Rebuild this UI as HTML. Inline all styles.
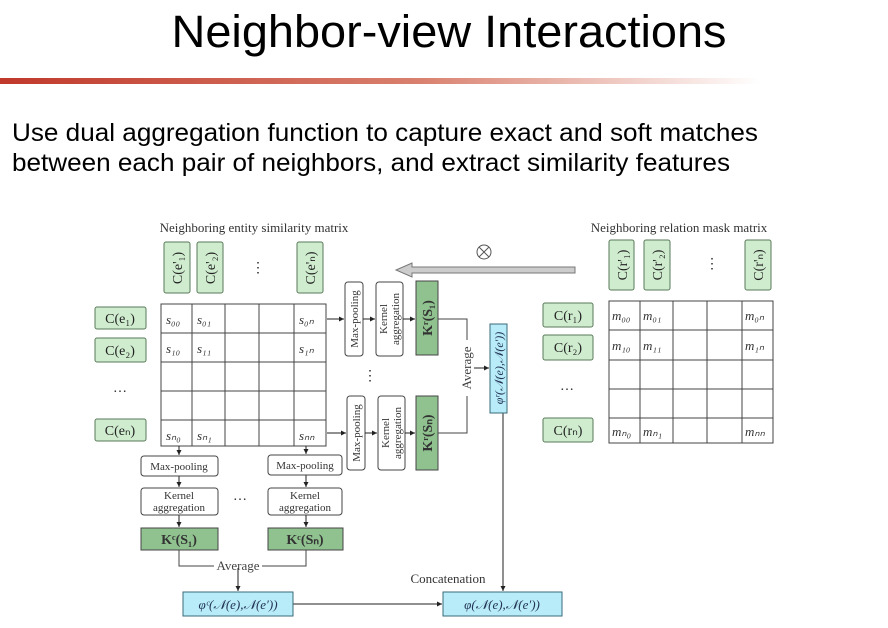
<!DOCTYPE html>
<html><head><meta charset="utf-8"><style>
body{margin:0;background:#fff;}
svg{display:block;font-family:"Liberation Serif",serif;}
.t{font-family:"Liberation Sans",sans-serif;}
</style></head><body>
<svg width="888" height="628" viewBox="0 0 888 628" xmlns="http://www.w3.org/2000/svg">
<defs>
<linearGradient id="rl" x1="0" x2="1"><stop offset="0" stop-color="#c0392b"/><stop offset="0.55" stop-color="#d9806e"/><stop offset="1" stop-color="#fff"/></linearGradient>
<marker id="a" markerWidth="6" markerHeight="6" refX="5" refY="3" orient="auto"><path d="M0,0.5 L5,3 L0,5.5z" fill="#222"/></marker>
</defs>
<rect width="888" height="628" fill="#fff"/>
<text class="t" x="449" y="47" font-size="45" text-anchor="middle" fill="#000" textLength="555" lengthAdjust="spacingAndGlyphs">Neighbor-view Interactions</text>
<rect x="0" y="78" width="760" height="6" fill="url(#rl)"/>
<text class="t" x="12" y="141" font-size="25" fill="#000" textLength="746" lengthAdjust="spacingAndGlyphs">Use dual aggregation function to capture exact and soft matches</text>
<text class="t" x="12" y="171" font-size="25" fill="#000" textLength="718" lengthAdjust="spacingAndGlyphs">between each pair of neighbors, and extract similarity features</text>

<g font-size="13" fill="#333">
<text x="254" y="232" text-anchor="middle">Neighboring entity similarity matrix</text>
<text x="679" y="232" text-anchor="middle">Neighboring relation mask matrix</text>
</g>

<g fill="#cfeccf" stroke="#5a7a5a" stroke-width="1">
<rect x="164" y="242" width="26" height="51" rx="2"/>
<rect x="197" y="242" width="26" height="51" rx="2"/>
<rect x="297" y="242" width="26" height="51" rx="2"/>
<rect x="95" y="307" width="51" height="22" rx="2"/>
<rect x="95" y="338" width="51" height="24" rx="2"/>
<rect x="95" y="419" width="51" height="22" rx="2"/>
<rect x="609" y="240" width="25" height="50" rx="2"/>
<rect x="644" y="240" width="26" height="50" rx="2"/>
<rect x="745" y="240" width="26" height="50" rx="2"/>
<rect x="543" y="303" width="50" height="24" rx="2"/>
<rect x="543" y="335" width="50" height="25" rx="2"/>
<rect x="543" y="418" width="50" height="24" rx="2"/>
</g>
<g font-size="14" fill="#222">
<text transform="translate(182,268) rotate(-90)" text-anchor="middle">C(e'₁)</text>
<text transform="translate(215,268) rotate(-90)" text-anchor="middle">C(e'₂)</text>
<text transform="translate(315,268) rotate(-90)" text-anchor="middle">C(e'ₙ)</text>
<text x="120" y="323" text-anchor="middle">C(e₁)</text>
<text x="120" y="355" text-anchor="middle">C(e₂)</text>
<text x="120" y="435" text-anchor="middle">C(eₙ)</text>
<text transform="translate(627,265) rotate(-90)" text-anchor="middle">C(r'₁)</text>
<text transform="translate(662,265) rotate(-90)" text-anchor="middle">C(r'₂)</text>
<text transform="translate(763,265) rotate(-90)" text-anchor="middle">C(r'ₙ)</text>
<text x="568" y="320" text-anchor="middle">C(r₁)</text>
<text x="568" y="352" text-anchor="middle">C(r₂)</text>
<text x="568" y="435" text-anchor="middle">C(rₙ)</text>
<text x="258" y="272" text-anchor="middle">⋮</text>
<text x="712" y="268" text-anchor="middle">⋮</text>
<text x="120" y="392" text-anchor="middle">…</text>
<text x="567" y="390" text-anchor="middle">…</text>
<text x="370" y="380" text-anchor="middle">⋮</text>
<text x="240" y="500" text-anchor="middle">…</text>
</g>

<g stroke="#444" stroke-width="1" fill="none">
<rect x="161" y="304" width="165" height="142"/>
<path d="M192,304V446M225,304V446M259,304V446M294,304V446M161,333H326M161,362H326M161,391H326M161,420H326"/>
<rect x="609" y="301" width="164" height="142"/>
<path d="M640,301V443M673,301V443M707,301V443M742,301V443M609,330H773M609,360H773M609,389H773M609,418H773"/>
</g>
<g font-size="13" font-style="italic" fill="#333">
<text x="166" y="324">s₀₀</text><text x="197" y="324">s₀₁</text><text x="299" y="324">s₀ₙ</text>
<text x="166" y="353">s₁₀</text><text x="197" y="353">s₁₁</text><text x="299" y="353">s₁ₙ</text>
<text x="166" y="440">sₙ₀</text><text x="197" y="440">sₙ₁</text><text x="299" y="440">sₙₙ</text>
<text x="612" y="320">m₀₀</text><text x="643" y="320">m₀₁</text><text x="745" y="320">m₀ₙ</text>
<text x="612" y="350">m₁₀</text><text x="643" y="350">m₁₁</text><text x="745" y="350">m₁ₙ</text>
<text x="612" y="436">mₙ₀</text><text x="643" y="436">mₙ₁</text><text x="745" y="436">mₙₙ</text>
</g>

<g stroke="#444" fill="#fff">
<rect x="345" y="282" width="18" height="74" rx="3"/>
<rect x="376" y="282" width="27" height="74" rx="3"/>
<rect x="416" y="281" width="22" height="74" fill="#8fc28f"/>
<rect x="347" y="396" width="18" height="74" rx="3"/>
<rect x="378" y="396" width="27" height="74" rx="3"/>
<rect x="416" y="396" width="22" height="74" fill="#8fc28f"/>
</g>
<g font-size="11" fill="#333">
<text transform="translate(358,319) rotate(-90)" text-anchor="middle">Max-pooling</text>
<text transform="translate(387,319) rotate(-90)" text-anchor="middle">Kernel</text>
<text transform="translate(399,319) rotate(-90)" text-anchor="middle">aggregation</text>
<text transform="translate(360,433) rotate(-90)" text-anchor="middle">Max-pooling</text>
<text transform="translate(389,433) rotate(-90)" text-anchor="middle">Kernel</text>
<text transform="translate(401,433) rotate(-90)" text-anchor="middle">aggregation</text>
<text transform="translate(432,318) rotate(-90)" text-anchor="middle" font-size="14" font-weight="bold">Kʳ(S₁)</text>
<text transform="translate(432,433) rotate(-90)" text-anchor="middle" font-size="14" font-weight="bold">Kʳ(Sₙ)</text>
</g>
<g stroke="#222" stroke-width="1" fill="none" marker-end="url(#a)">
<path d="M327,319H344"/><path d="M363,319H375"/><path d="M403,319H415"/>
<path d="M327,433H346"/><path d="M365,433H377"/><path d="M405,433H415"/>
<path d="M467,368H489"/>
<path d="M179,446V455"/><path d="M306,446V454"/>
<path d="M179,476V487"/><path d="M306,475V487"/>
<path d="M179,515V527"/><path d="M306,515V527"/>
<path d="M238,568V591"/>
<path d="M293,604H442"/>
<path d="M503,413V591"/>
</g>
<path d="M438,319H467V433H438" stroke="#444" fill="none"/>
<rect x="460" y="340" width="14" height="56" fill="#fff"/>
<text transform="translate(471,368) rotate(-90)" text-anchor="middle" font-size="13" fill="#444">Average</text>

<rect x="490" y="324" width="17" height="89" fill="#b8ecf8" stroke="#3a6a7a"/>
<text transform="translate(503,368) rotate(-90)" text-anchor="middle" font-size="12" font-style="italic" fill="#235">φʳ(𝒩(e),𝒩(e′))</text>

<path d="M575,267H412V263L396,270L412,277V273H575z" fill="#ccc" stroke="#777"/>
<circle cx="484" cy="252" r="7" fill="none" stroke="#555"/>
<path d="M479,247L489,257M489,247L479,257" stroke="#555"/>

<g stroke="#444" fill="#fff">
<rect x="141" y="456" width="77" height="20" rx="3"/>
<rect x="268" y="455" width="74" height="20" rx="3"/>
<rect x="141" y="488" width="77" height="27" rx="3"/>
<rect x="268" y="488" width="74" height="27" rx="3"/>
<rect x="141" y="528" width="77" height="22" fill="#8fc28f"/>
<rect x="268" y="528" width="75" height="22" fill="#8fc28f"/>
<rect x="183" y="592" width="110" height="24" fill="#b8ecf8" stroke="#3a6a7a"/>
<rect x="443" y="592" width="119" height="24" fill="#b8ecf8" stroke="#3a6a7a"/>
</g>
<g font-size="11" fill="#333" text-anchor="middle">
<text x="179" y="470">Max-pooling</text><text x="305" y="469">Max-pooling</text>
<text x="179" y="499">Kernel</text><text x="179" y="511">aggregation</text>
<text x="305" y="499">Kernel</text><text x="305" y="511">aggregation</text>
<text x="179" y="544" font-size="14" font-weight="bold">Kᶜ(S₁)</text>
<text x="305" y="544" font-size="14" font-weight="bold">Kᶜ(Sₙ)</text>
<text x="238" y="609" font-size="13" font-style="italic" fill="#235">φᶜ(𝒩(e),𝒩(e′))</text>
<text x="502" y="609" font-size="13" font-style="italic" fill="#235">φ(𝒩(e),𝒩(e′))</text>
<text x="448" y="583" font-size="13">Concatenation</text>
</g>
<path d="M179,550V566H214M262,566H306V550" stroke="#444" fill="none"/>
<text x="238" y="570" font-size="13" fill="#444" text-anchor="middle">Average</text>
</svg>
</body></html>
